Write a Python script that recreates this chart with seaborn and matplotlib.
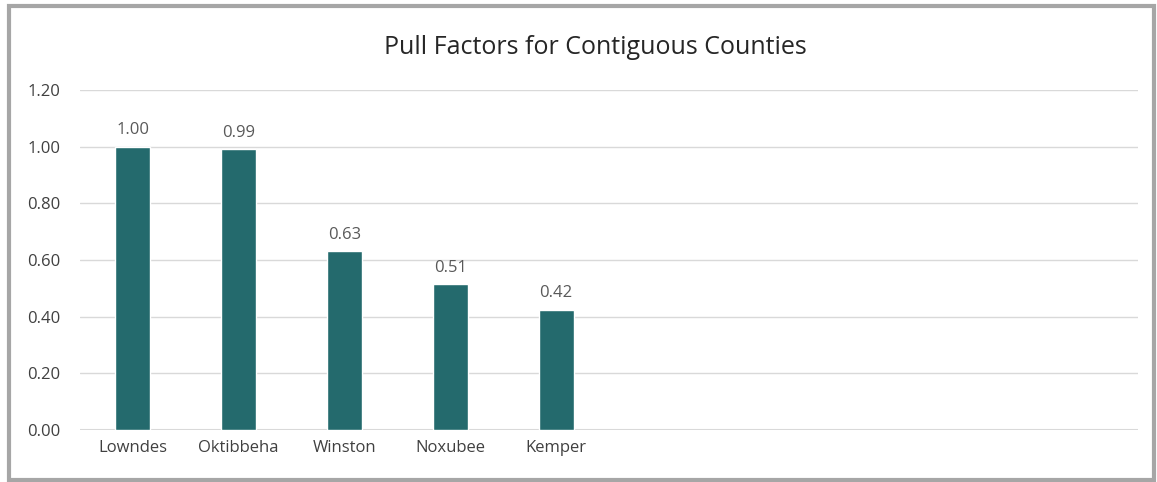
import matplotlib
matplotlib.use("Agg")
import matplotlib.pyplot as plt
import seaborn as sns
import pandas as pd
from matplotlib.patches import Rectangle

counties = ["Lowndes", "Oktibbeha", "Winston", "Noxubee", "Kemper"]
pull_factors = [1.00, 0.99, 0.63, 0.515, 0.425]
value_labels = ["1.00", "0.99", "0.63", "0.51", "0.42"]
y_ticks = [0.0, 0.2, 0.4, 0.6, 0.8, 1.0, 1.2]
title = "Pull Factors for Contiguous Counties"

sns.set_style("white")
plt.rcParams['font.family'] = ['Open Sans', 'DejaVu Sans']

W, H = 1157, 482
fig = plt.figure(figsize=(W / 100, H / 100), dpi=100)
ax = fig.add_axes([80 / W, 1 - 430 / H, (1138 - 80) / W, (430 - 90) / H])

df = pd.DataFrame({"County": counties, "Pull": pull_factors})
sns.barplot(data=df, x="County", y="Pull", ax=ax, color="#246A6D",
            width=0.33, saturation=1)
ax.set_xlim(-0.5, 9.5)
ax.set_ylim(0, 1.2)
ax.set_yticks(y_ticks)
ax.set_yticklabels([f"{v:.2f}" for v in y_ticks])
ax.yaxis.grid(True, color="#D9D9D9", linewidth=1)
ax.set_axisbelow(True)
for s in ax.spines.values():
    s.set_visible(False)
ax.axhline(0, color="#D9D9D9", linewidth=1.5, zorder=0.5)
ax.set_xlabel("")
ax.set_ylabel("")
ax.tick_params(axis="both", length=0, labelsize=12, colors="#404040", pad=7)
ax.tick_params(axis="y", pad=14)

for i, (v, lab) in enumerate(zip(pull_factors, value_labels)):
    ax.annotate(lab, (i, v), xytext=(0, 6), textcoords="offset points",
                ha="center", va="bottom", fontsize=12, color="#595959")

fig.text(595 / W, 1 - 47 / H, title, ha="center", va="center",
         fontsize=18, color="#262626")

fig.patches.append(Rectangle((9 / W, 1 - 480 / H), (1154 - 9) / W, (480 - 6) / H,
                             transform=fig.transFigure, fill=False,
                             edgecolor="#A6A6A6", linewidth=3))

fig.savefig("out.png", dpi=100)
